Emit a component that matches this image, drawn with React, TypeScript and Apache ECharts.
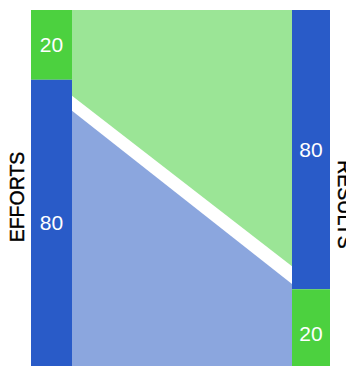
import React, { useEffect, useRef } from 'react';
import * as echarts from 'echarts';

// Column titles
const columns = ['EFFORTS', 'RESULTS'];
// Shares per column, listed top to bottom
const effortsShares = [20, 80]; // green (top), blue (bottom)
const resultsShares = [80, 20]; // blue (top), green (bottom)
// Colour key per segment, top to bottom (0 = green, 1 = blue)
const effortsKinds = [0, 1];
const resultsKinds = [1, 0];
// Flow band edges (axis units) at left and right columns
const greenFlowLowerEdge = [24.6, 73.4];
const blueFlowUpperEdge = [28.9, 78.5];

const FONT = 'Liberation Sans, Arial, Helvetica, sans-serif';
const LEFT_W = 41;
const RIGHT_W = 38;
const BAR_COLORS = ['#4CD13F', '#295BC8'];
const FLOW_COLORS = ['#9BE596', '#8BA6DE'];

function buildSegments(col: number, shares: number[], kinds: number[]) {
  const out: number[][] = [];
  let acc = 0;
  shares.forEach((v, i) => {
    out.push([col, acc, acc + v, v, kinds[i], i === shares.length - 1 ? 1 : 0]);
    acc += v;
  });
  return out;
}

export default function App() {
  const ref = useRef<HTMLDivElement>(null);
  useEffect(() => {
    if (!ref.current) return;
    const chart = echarts.init(ref.current, undefined, { renderer: 'svg' });
    const segments = [
      ...buildSegments(0, effortsShares, effortsKinds),
      ...buildSegments(1, resultsShares, resultsKinds),
    ];
    const flows = [
      [greenFlowLowerEdge[0], greenFlowLowerEdge[1], 0],
      [blueFlowUpperEdge[0], blueFlowUpperEdge[1], 1],
    ];
    chart.setOption({
      animation: false,
      grid: { left: 31, right: 16, top: 10, bottom: 0 },
      xAxis: { type: 'value', min: 0, max: 1, show: false },
      yAxis: { type: 'value', inverse: true, min: 0, max: 102, show: false },
      graphic: [
        {
          type: 'text',
          x: 16.5,
          y: 197,
          rotation: Math.PI / 2,
          style: { text: columns[0], fontSize: 19.5, fill: '#000', align: 'center', verticalAlign: 'middle', fontFamily: FONT, stroke: '#000', lineWidth: 0.4 },
        },
        {
          type: 'text',
          x: 345,
          y: 204.5,
          rotation: -Math.PI / 2,
          style: { text: columns[1], fontSize: 19.5, fill: '#000', align: 'center', verticalAlign: 'middle', fontFamily: FONT, stroke: '#000', lineWidth: 0.4 },
        },
      ],
      series: [
        {
          type: 'custom',
          coordinateSystem: 'cartesian2d',
          data: flows,
          renderItem: (params: any, api: any) => {
            const cs = params.coordSys;
            const xl = cs.x + LEFT_W;
            const xr = cs.x + cs.width - RIGHT_W;
            const yl = api.coord([0, api.value(0)])[1];
            const yr = api.coord([0, api.value(1)])[1];
            const kind = api.value(2);
            const top = api.coord([0, 0])[1];
            const bottom = cs.y + cs.height;
            const points =
              kind === 0
                ? [[xl, top], [xr, top], [xr, yr], [xl, yl]]
                : [[xl, yl], [xr, yr], [xr, bottom], [xl, bottom]];
            return { type: 'polygon', shape: { points }, style: { fill: FLOW_COLORS[kind] } };
          },
        },
        {
          type: 'custom',
          coordinateSystem: 'cartesian2d',
          data: segments,
          renderItem: (params: any, api: any) => {
            const cs = params.coordSys;
            const col = api.value(0);
            const start = api.value(1);
            const end = api.value(2);
            const val = api.value(3);
            const kind = api.value(4);
            const isLast = api.value(5) === 1;
            const w = col === 0 ? LEFT_W : RIGHT_W;
            const x = col === 0 ? cs.x : cs.x + cs.width - RIGHT_W;
            const y0 = api.coord([0, start])[1];
            const y1 = isLast ? cs.y + cs.height : api.coord([0, end])[1];
            const nudge = col === 1 && isLast ? 6 : 0;
            return {
              type: 'group',
              children: [
                { type: 'rect', shape: { x, y: y0, width: w, height: y1 - y0 }, style: { fill: BAR_COLORS[kind] } },
                {
                  type: 'text',
                  style: {
                    text: String(val),
                    x: x + w / 2,
                    y: (y0 + y1) / 2 + nudge,
                    fill: '#fff',
                    fontSize: 21,
                    fontFamily: FONT,
                    align: 'center',
                    verticalAlign: 'middle',
                  },
                },
              ],
            };
          },
        },
      ],
    });
    return () => chart.dispose();
  }, []);
  return <div ref={ref} style={{ position: 'absolute', left: 0, top: 0, width: 346, height: 366 }} />;
}
